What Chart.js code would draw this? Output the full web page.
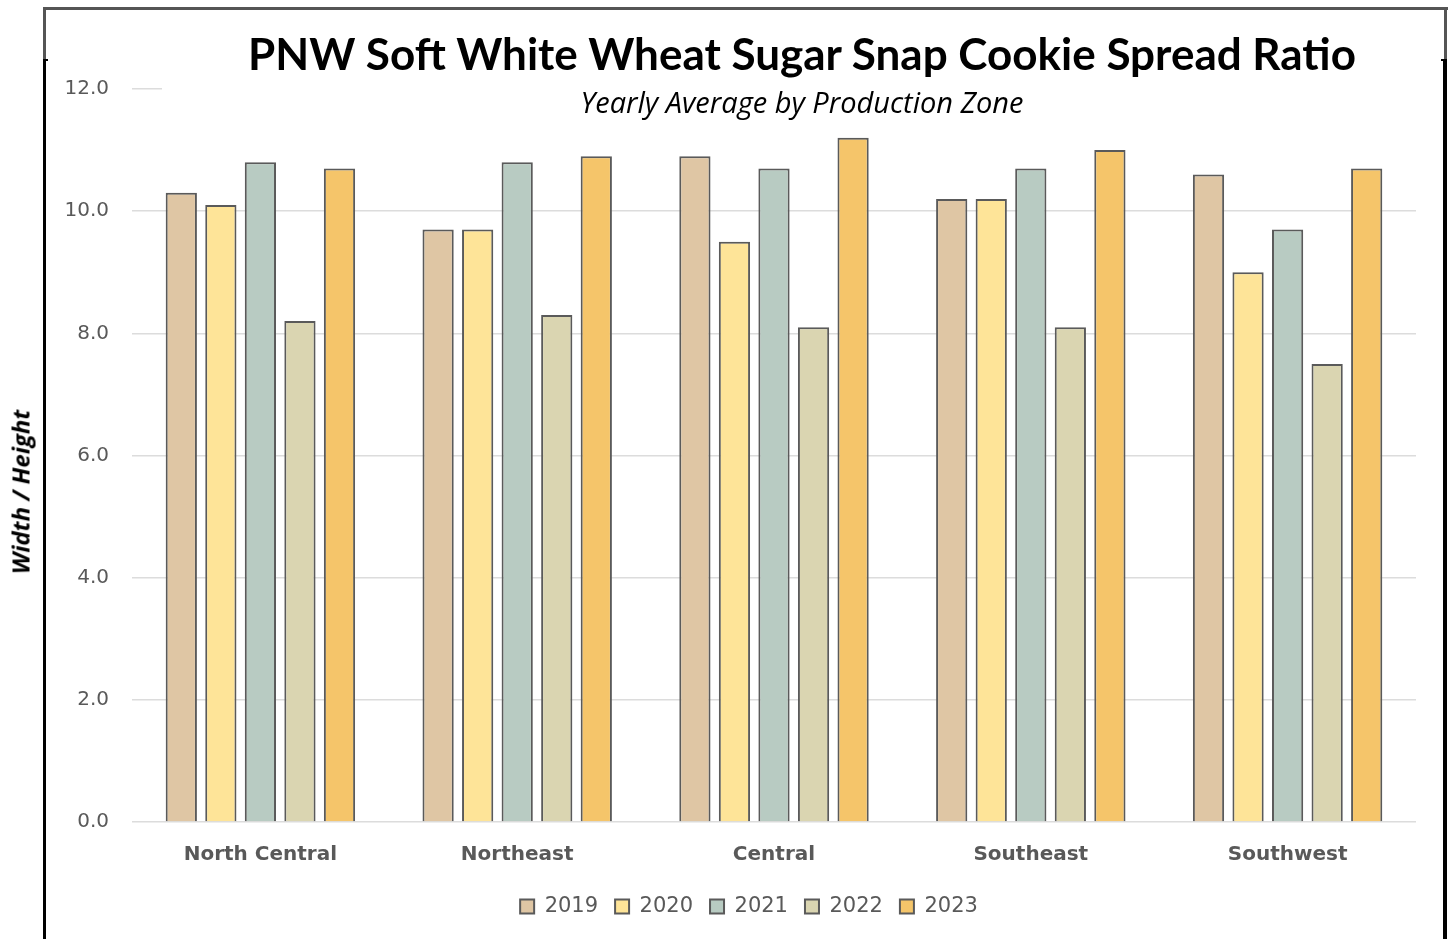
<!DOCTYPE html>
<html>
<head>
<meta charset="utf-8">
<script src="https://cdn.jsdelivr.net/npm/chart.js@4.4.0/dist/chart.umd.min.js"></script>
<style>
  body { margin: 0; background: #fff; }
  #wrap { position: relative; width: 1453px; height: 939px; overflow: hidden; }
  #title { position: absolute; left: 162px; top: 22px; width: 1280px; height: 96px; background: #fff; text-align: center; }
  #title .main { position: absolute; left: 0; right: 0; top: 5px; line-height: 50px; font: bold 44px Lato, "Open Sans", sans-serif; color: #000; }
  #title .sub { position: absolute; left: 0; right: 0; top: 60px; line-height: 32px; font: italic 29px "Open Sans", sans-serif; color: #000; }
  #ytitle { position: absolute; left: 20px; top: 492px; transform: translate(-50%, -50%) rotate(-90deg); white-space: nowrap; font: bold italic 24px "Open Sans", sans-serif; color: #000; }
  .frame { position: absolute; }
</style>
</head>
<body>
<div id="wrap">
  <canvas id="bar-chart" width="1453" height="939"></canvas>
  <div id="title">
    <div class="main">PNW Soft White Wheat Sugar Snap Cookie Spread Ratio</div>
    <div class="sub">Yearly Average by Production Zone</div>
  </div>
  <div id="ytitle">Width / Height</div>
  <!-- picture frame -->
  <div class="frame" style="left:43px; top:7px; width:1405px; height:3px; background:#555;"></div>
  <div class="frame" style="left:43px; top:7px; width:3px; height:54px; background:#555;"></div>
  <div class="frame" style="left:1444px; top:7px; width:3px; height:54px; background:#555;"></div>
  <div class="frame" style="left:43px; top:60px; width:3px; height:879px; background:#000;"></div>
  <div class="frame" style="left:43px; top:59px; width:5px; height:2px; background:#000;"></div>
  <div class="frame" style="left:1443px; top:60px; width:4px; height:879px; background:#000;"></div>
  <div class="frame" style="left:1441px; top:59px; width:6px; height:2px; background:#000;"></div>
</div>
<script>
var zones = ["North Central", "Northeast", "Central", "Southeast", "Southwest"];
var years = ["2019", "2020", "2021", "2022", "2023"];
var y2019 = [10.3, 9.7, 10.9, 10.2, 10.6];
var y2020 = [10.1, 9.7, 9.5, 10.2, 9.0];
var y2021 = [10.8, 10.8, 10.7, 10.7, 9.7];
var y2022 = [8.2, 8.3, 8.1, 8.1, 7.5];
var y2023 = [10.7, 10.9, 11.2, 11.0, 10.7];
var yTicks = [0, 2, 4, 6, 8, 10, 12];
var colors = ["#dfc6a4", "#fee498", "#b8cbc2", "#dad5b1", "#f5c56a"];

var series = [y2019, y2020, y2021, y2022, y2023];
var datasets = series.map(function (vals, i) {
  return {
    label: years[i],
    data: vals,
    backgroundColor: colors[i],
    borderColor: "#5a5a5a",
    borderWidth: 2,
    categoryPercentage: 0.77,
    barPercentage: 0.79
  };
});

// nudge the legend right so it sits where the original one does
var legendShift = {
  id: 'legendShift',
  afterUpdate: function (chart) {
    chart.legend.left += 41;
    chart.legend.right += 41;
    chart.legend.adjustHitBoxes();
  }
};

var myChart = new Chart(document.getElementById("bar-chart"), {
  type: 'bar',
  data: { labels: zones, datasets: datasets },
  plugins: [legendShift],
  options: {
    responsive: false,
    animation: false,
    layout: { padding: { top: 89, right: 37, bottom: 12, left: 0 } },
    plugins: {
      title: { display: false },
      tooltip: { enabled: false },
      legend: {
        position: 'bottom',
        labels: {
          boxWidth: 14,
          boxHeight: 14,
          padding: 17,
          color: '#595959',
          font: { family: '"DejaVu Sans"', size: 21 }
        }
      }
    },
    scales: {
      x: {
        grid: { display: false },
        border: { display: false },
        ticks: {
          color: '#595959',
          padding: 13,
          font: { family: '"DejaVu Sans"', size: 20, weight: 'bold' }
        },
        afterFit: function (scale) { scale.height = 57; }
      },
      y: {
        min: 0,
        max: 12,
        afterBuildTicks: function (scale) {
          scale.ticks = yTicks.map(function (v) { return { value: v }; });
        },
        grid: { color: '#dcdcdc', lineWidth: 1.5, drawTicks: false },
        border: { display: false },
        ticks: {
          color: '#595959',
          padding: 23,
          font: { family: '"DejaVu Sans"', size: 20 },
          callback: function (v) { return Number(v).toFixed(1); }
        },
        afterFit: function (scale) { scale.width = 132; }
      }
    }
  }
});
</script>
</body>
</html>
